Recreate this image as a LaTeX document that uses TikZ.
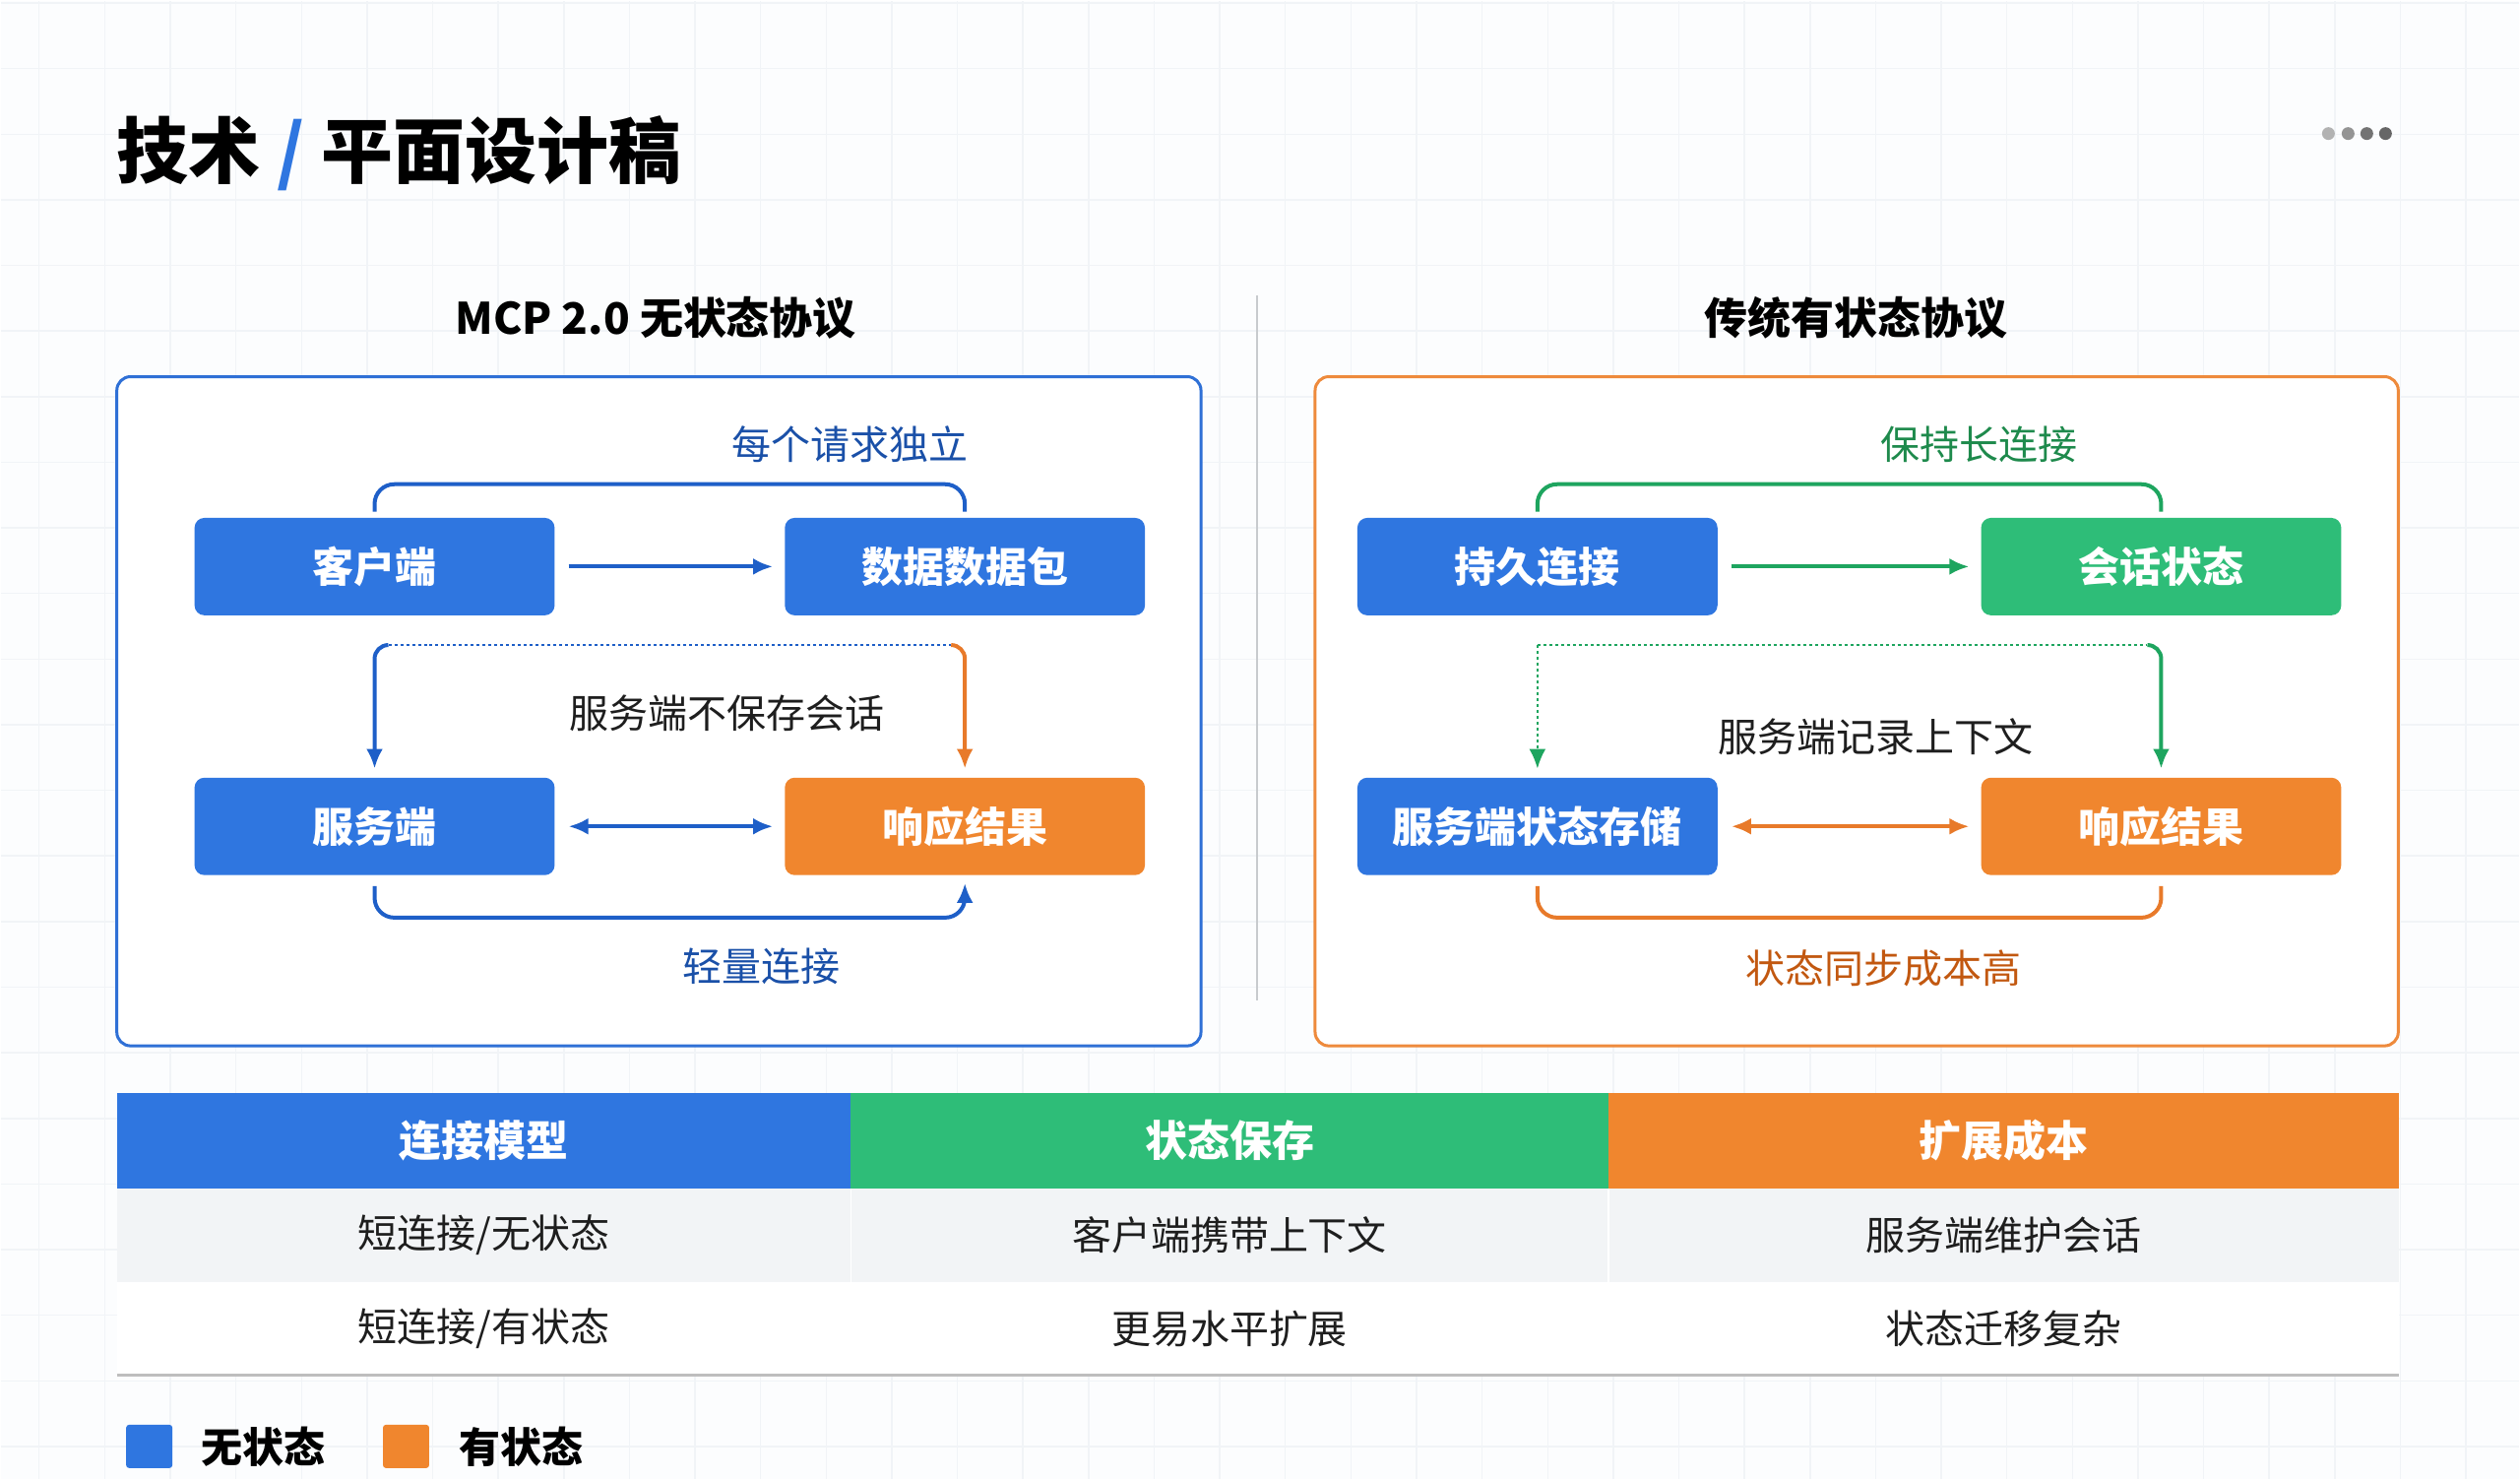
\documentclass[tikz,border=0pt]{standalone}
\usepackage{fontspec}
\setmainfont{Noto Sans CJK SC}
\usetikzlibrary{arrows.meta,calc,positioning}
\tikzset{>={Latex[length=20pt,width=17pt]}}
\definecolor{boxblue}{RGB}{47,118,224}
\definecolor{boxgreen}{RGB}{46,189,120}
\definecolor{boxorange}{RGB}{240,134,46}
\definecolor{linkblue}{RGB}{30,95,200}
\definecolor{linkgreen}{RGB}{30,165,95}
\definecolor{linkorange}{RGB}{232,122,42}
\definecolor{labelblue}{RGB}{26,80,168}
\definecolor{labelgreen}{RGB}{30,138,76}
\definecolor{labelorange}{RGB}{194,88,16}
\definecolor{ink}{RGB}{30,30,30}
\definecolor{panelblue}{RGB}{47,112,214}
\definecolor{panelorange}{RGB}{238,138,60}
\definecolor{rowgray}{RGB}{242,244,246}
\definecolor{rulegray}{RGB}{190,190,190}
\definecolor{sepgray}{RGB}{200,203,206}
\definecolor{gridline}{RGB}{241,244,247}
\definecolor{pagebg}{RGB}{252,253,254}

\begin{document}
\begin{tikzpicture}[x=1pt,y=1pt]

        % Setup the styles for boxes, links and labels
        \tikzset{box style/.style={rectangle,
                                   rounded corners=10pt,
                                   minimum width=366pt,
                                   minimum height=99pt,
                                   text=white,
                                   font=\fontsize{42}{50}\selectfont\bfseries},
                 link style/.style={line width=4pt},
                 dotted link/.style={line width=2.5pt, dash pattern=on 3pt off 3pt},
                 note style/.style={font=\fontsize{40}{48}\selectfont},
                 head style/.style={text=white, font=\fontsize{43}{50}\selectfont\bfseries},
                 cell style/.style={text=ink, font=\fontsize{40}{48}\selectfont},
                 legend style/.style={inner sep=0pt, anchor=west, text=black,
                                      font=\fontsize{42}{50}\selectfont\bfseries}}

        % Background with grid
        \fill[pagebg] (0,0) rectangle (2560,1502);
        \foreach \gx in {0,...,37} \draw[gridline, line width=1.5pt] ({39+66.67*\gx},0) -- ++(0,1502);
        \foreach \gy in {0,...,22} \draw[gridline, line width=1.5pt] (0,{1499.7-66.67*\gy}) -- ++(2560,0);
        \useasboundingbox (0,0) rectangle (2560,1502);

        % Title and dots
        \node[anchor=west, inner sep=0pt, text=black,
              font=\fontsize{73}{88}\selectfont\bfseries] at (118,1347) (title) {技术 \textcolor{boxblue}{/} 平面设计稿};
        \foreach \dx/\dc in {2366/30, 2386/42, 2405/55, 2424/60}
            \fill[black!\dc] (\dx,1367) circle (6.5);

        % Panel titles, frames and separator
        \node[text=black, font=\fontsize{44}{52}\selectfont\bfseries] at (666,1180) (ltitle) {MCP 2.0 无状态协议};
        \node[text=black, font=\fontsize{44}{52}\selectfont\bfseries] at (1886,1180) (rtitle) {传统有状态协议};
        \draw[sepgray, line width=2pt] (1277,1203) -- (1277,486);
        \draw[panelblue, line width=3pt, fill=white, rounded corners=14pt] (118,1120) rectangle (1220,440);
        \draw[panelorange, line width=3pt, fill=white, rounded corners=14pt] (1336,1120) rectangle (2437,440);

        % Draw the boxes
        \node[box style, fill=boxblue]   at (380, 927)  (cli)   {客户端};
        \node[box style, fill=boxblue]   at (980, 927)  (pkt)   {数据数据包};
        \node[box style, fill=boxblue]   at (380, 663)  (srv)   {服务端};
        \node[box style, fill=boxorange] at (980, 663)  (res)   {响应结果};
        \node[box style, fill=boxblue]   at (1562, 927) (conn)  {持久连接};
        \node[box style, fill=boxgreen]  at (2196, 927) (sess)  {会话状态};
        \node[box style, fill=boxblue]   at (1562, 663) (store) {服务端状态存储};
        \node[box style, fill=boxorange] at (2196, 663) (rres)  {响应结果};

        % Labels
        \node[note style, text=labelblue]   at (863,1051)  (lnote1) {每个请求独立};
        \node[note style, text=ink]         at (738,778)   (lnote2) {服务端不保存会话};
        \node[note style, text=labelblue]   at (773,521)   (lnote3) {轻量连接};
        \node[note style, text=labelgreen]  at (2011,1051) (rnote1) {保持长连接};
        \node[note style, text=ink]         at (1906,754)  (rnote2) {服务端记录上下文};
        \node[note style, text=labelorange] at (1914,519)  (rnote3) {状态同步成本高};

        % Connect the boxes, stateless side
        \draw[link style, linkblue, rounded corners=20pt] ([yshift=6pt]cli.north) -- ++(0,28) -| ([yshift=6pt]pkt.north);
        \draw[link style, linkblue, ->, shorten <=14pt, shorten >=12pt] (cli.east) -- (pkt.west);
        \draw[dotted link, linkblue] ([xshift=14pt,yshift=-30pt]cli.south) -- ([xshift=-14pt,yshift=-30pt]pkt.south);
        \draw[link style, linkblue, ->, rounded corners=14pt] ([xshift=14pt,yshift=-30pt]cli.south) -| ([yshift=9pt]srv.north);
        \draw[link style, linkorange, ->, rounded corners=14pt] ([xshift=-14pt,yshift=-30pt]pkt.south) -| ([yshift=9pt]res.north);
        \draw[link style, linkblue, <->, shorten <=14pt, shorten >=12pt] (srv.east) -- (res.west);
        \draw[link style, linkblue, ->, rounded corners=20pt] ([yshift=-11pt]srv.south) -- ++(0,-32) -| ([yshift=-8pt]res.south);

        % Connect the boxes, stateful side
        \draw[link style, linkgreen, rounded corners=20pt] ([yshift=6pt]conn.north) -- ++(0,28) -| ([yshift=6pt]sess.north);
        \draw[link style, linkgreen, ->, shorten <=14pt, shorten >=12pt] (conn.east) -- (sess.west);
        \draw[dotted link, linkgreen] ([yshift=-30pt]conn.south) -- ([xshift=-14pt,yshift=-30pt]sess.south);
        \draw[dotted link, linkgreen, ->] ([yshift=-30pt]conn.south) -- ([yshift=9pt]store.north);
        \draw[link style, linkgreen, ->, rounded corners=14pt] ([xshift=-14pt,yshift=-30pt]sess.south) -| ([yshift=9pt]rres.north);
        \draw[link style, linkorange, <->, shorten <=14pt, shorten >=12pt] (store.east) -- (rres.west);
        \draw[link style, linkorange, rounded corners=20pt] ([yshift=-11pt]store.south) -- ++(0,-32) -| ([yshift=-11pt]rres.south);

        % Comparison table
        \fill[boxblue]   (118,392) rectangle (864,295);
        \fill[boxgreen]  (864,392) rectangle (1634,295);
        \fill[boxorange] (1634,392) rectangle (2438,295);
        \fill[rowgray]   (118,295) rectangle (2438,200);
        \fill[white]     (118,200) rectangle (2438,105);
        \draw[white, line width=1.5pt] (864,295) -- (864,200) (1634,295) -- (1634,200);
        \draw[rulegray, line width=3pt] (118,105) -- (2438,105);
        \node[head style] at (491,344)  (h1) {连接模型};
        \node[head style] at (1249,344) (h2) {状态保存};
        \node[head style] at (2036,344) (h3) {扩展成本};
        \node[cell style] at (491,248)  (c11) {短连接/无状态};
        \node[cell style] at (1249,248) (c12) {客户端携带上下文};
        \node[cell style] at (2036,248) (c13) {服务端维护会话};
        \node[cell style] at (491,153)  (c21) {短连接/有状态};
        \node[cell style] at (1249,153) (c22) {更易水平扩展};
        \node[cell style] at (2036,153) (c23) {状态迁移复杂};

        % Legend
        \node[fill=boxblue, minimum width=47pt, minimum height=44pt, rounded corners=3pt] at (151,33) (lgblue) {};
        \node[legend style] at (204,33) (lgless) {无状态};
        \node[fill=boxorange, minimum width=47pt, minimum height=44pt, rounded corners=3pt] at (412,33) (lgorange) {};
        \node[legend style] at (466,33) (lgful) {有状态};
    \end{tikzpicture}
\end{document}
